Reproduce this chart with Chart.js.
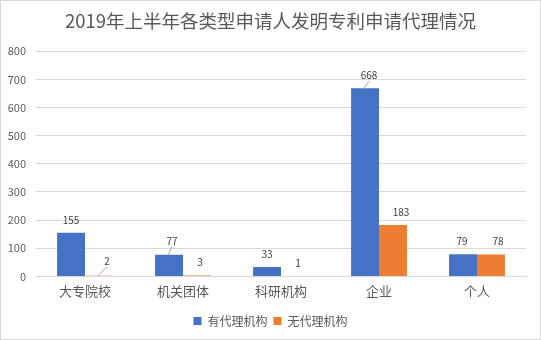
<!DOCTYPE html>
<html>
<head>
<meta charset="utf-8">
<script src="https://cdn.jsdelivr.net/npm/chart.js@4/dist/chart.umd.min.js"></script>
<style>
  html, body { margin: 0; padding: 0; background: #fff; }
  #wrap { width: 541px; height: 340px; }
</style>
</head>
<body>
<div id="wrap"><canvas id="myChart" width="541" height="340"></canvas></div>
<script>
// 数据
var categories = ['大专院校', '机关团体', '科研机构', '企业', '个人'];
var withAgency = [155, 77, 33, 668, 79];
var withoutAgency = [2, 3, 1, 183, 78];
var yTicks = [0, 100, 200, 300, 400, 500, 600, 700, 800];

var FONT = "'Noto Sans CJK SC', 'Noto Sans', sans-serif";
var GREY = '#595959';

// 数据标签（部分带引导线）
var labelPlugin = {
  id: 'barLabels',
  afterDatasetsDraw: function (chart, args, opts) {
    var ctx = chart.ctx;
    ctx.save();
    ctx.font = '10px ' + FONT;
    ctx.fillStyle = '#404040';
    ctx.textAlign = 'center';
    ctx.textBaseline = 'middle';
    chart.data.datasets.forEach(function (ds, di) {
      var meta = chart.getDatasetMeta(di);
      meta.data.forEach(function (bar, i) {
        var off = opts.offsets[di][i];
        var lx = bar.x + off[0];
        var ly = bar.y - 13 + off[1];
        if (off[2]) {
          ctx.strokeStyle = '#a6a6a6';
          ctx.lineWidth = 1;
          ctx.beginPath();
          ctx.moveTo(bar.x - 1, bar.y);
          ctx.lineTo(lx, ly + 6);
          ctx.stroke();
        }
        ctx.fillText(ds.data[i], lx, ly);
      });
    });
    ctx.restore();
  }
};

// 背景与外框
var framePlugin = {
  id: 'frame',
  beforeDraw: function (chart) {
    var ctx = chart.ctx;
    ctx.save();
    ctx.fillStyle = '#fff';
    ctx.fillRect(0, 0, chart.width, chart.height);
    ctx.strokeStyle = '#d9d9d9';
    ctx.lineWidth = 1;
    ctx.strokeRect(0.5, 0.5, chart.width - 1, chart.height - 1);
    ctx.restore();
  }
};

var data = {
  labels: categories,
  datasets: [{
    label: '有代理机构',
    data: withAgency,
    backgroundColor: '#4472C4',
    categoryPercentage: 0.57,
    barPercentage: 1
  }, {
    label: '无代理机构',
    data: withoutAgency,
    backgroundColor: '#ED7D31',
    categoryPercentage: 0.57,
    barPercentage: 1
  }]
};

var options = {
  responsive: false,
  animation: false,
  layout: { padding: { left: 0, right: 0, top: 10, bottom: 3 } },
  scales: {
    x: {
      afterFit: function (scale) { scale.height += 3; },
      grid: { display: false, drawTicks: false },
      border: { display: true, color: '#d9d9d9' },
      ticks: { color: GREY, font: { family: FONT, size: 13 }, padding: 7 }
    },
    y: {
      min: 0,
      max: 800,
      afterBuildTicks: function (scale) {
        scale.ticks = yTicks.map(function (v) { return { value: v }; });
      },
      afterFit: function (scale) { scale.width = 36; },
      grid: { color: '#d9d9d9', drawTicks: false },
      border: { display: false },
      ticks: { color: GREY, font: { family: FONT, size: 11 }, padding: 10 }
    },
    // 右侧留白
    yRight: {
      position: 'right',
      afterFit: function (scale) { scale.width = 15; },
      grid: { display: false, drawTicks: false },
      border: { display: false },
      ticks: { display: false }
    }
  },
  plugins: {
    title: {
      display: true,
      text: '2019年上半年各类型申请人发明专利申请代理情况',
      color: GREY,
      font: { family: FONT, size: 18.5, weight: 'normal' },
      padding: { top: 0, bottom: 19 }
    },
    legend: {
      position: 'bottom',
      labels: {
        color: GREY,
        font: { family: FONT, size: 12 },
        boxWidth: 8,
        boxHeight: 8,
        padding: 6
      }
    },
    tooltip: { enabled: false },
    barLabels: {
      offsets: [
        [[0, 0], [3, -1, true], [0, 0], [4, 0, true], [-1, 0]],
        [[8, -2, true], [3, 0], [3, 0], [8, 0], [7, 0]]
      ]
    }
  }
};

var ctx = document.getElementById('myChart').getContext('2d');
var myChart = new Chart(ctx, {
  type: 'bar',
  data: data,
  options: options,
  plugins: [framePlugin, labelPlugin]
});
</script>
</body>
</html>
